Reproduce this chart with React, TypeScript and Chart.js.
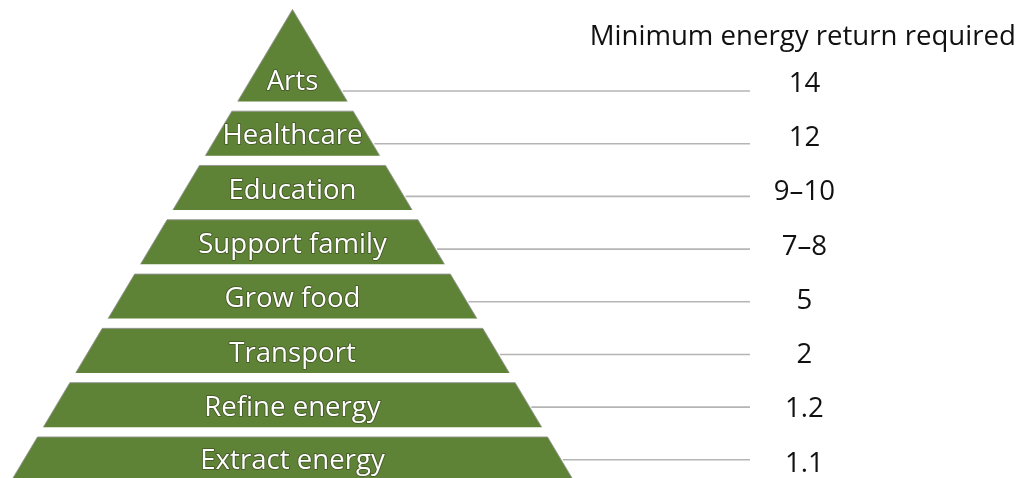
import React, { useEffect, useRef } from "react";
import { Chart, registerables } from "chart.js";

Chart.register(...registerables);

// Data (bottom to top)
const layerNames = [
  "Extract energy",
  "Refine energy",
  "Transport",
  "Grow food",
  "Support family",
  "Education",
  "Healthcare",
  "Arts",
];
const minReturns = ["1.1", "1.2", "2", "5", "7–8", "9–10", "12", "14"];
const columnTitle = "Minimum energy return required";

// Layout / style constants
const APEX = 8.692; // level of the pyramid tip
const BAND = 0.82; // band height as fraction of one level
const LINE_END = 14.12; // x where leader lines end
const VALUE_X = 15.8; // x of values column centre
const GREEN = "#5e8236";
const FONT = "'Open Sans', sans-serif";

const halfWidth = (v: number) => APEX - v;

export default function App() {
  const ref = useRef<HTMLCanvasElement | null>(null);

  useEffect(() => {
    if (!ref.current) return;

    const polys = layerNames.map((name, i) => {
      const v0 = i;
      const v1 = i === layerNames.length - 1 ? APEX : i + BAND;
      const pts =
        i === layerNames.length - 1
          ? [
              { x: -halfWidth(v0), y: v0 },
              { x: 0, y: v1 },
              { x: halfWidth(v0), y: v0 },
            ]
          : [
              { x: -halfWidth(v0), y: v0 },
              { x: -halfWidth(v1), y: v1 },
              { x: halfWidth(v1), y: v1 },
              { x: halfWidth(v0), y: v0 },
            ];
      return {
        label: name,
        data: pts,
        showLine: true,
        fill: { value: v0 },
        backgroundColor: GREEN,
        borderColor: "rgba(150,150,150,0.9)",
        borderWidth: 1,
        pointRadius: 0,
        tension: 0,
        order: 1,
      };
    });

    const leaders = layerNames.map((name, i) => {
      const vl = i * 0.97 + 0.4;
      return {
        label: name + " leader",
        data: [
          { x: halfWidth(vl) + 0.05, y: vl },
          { x: LINE_END, y: vl },
        ],
        showLine: true,
        fill: false,
        borderColor: "#b5b5b5",
        borderWidth: 1.6,
        pointRadius: 0,
        order: 2,
      };
    });

    const textPlugin = {
      id: "pyramidText",
      afterDatasetsDraw(chart: any) {
        const ctx = chart.ctx;
        const xs = chart.scales.x;
        const ys = chart.scales.y;
        ctx.save();
        ctx.font = `27.6px ${FONT}`;
        ctx.textAlign = "center";
        ctx.textBaseline = "alphabetic";
        layerNames.forEach((name, i) => {
          const cy = ys.getPixelForValue(i + 0.41) + 11 - (i === 0 ? 1.5 : 0);
          const cx = xs.getPixelForValue(0);
          ctx.lineJoin = "round";
          ctx.strokeStyle = "rgba(40,45,20,0.55)";
          ctx.lineWidth = 1.6;
          ctx.strokeText(name, cx, cy);
          ctx.fillStyle = "#ffffff";
          ctx.fillText(name, cx, cy);
        });
        ctx.fillStyle = "#111111";
        minReturns.forEach((val, i) => {
          const cy = ys.getPixelForValue(i + 0.41) + 12.5;
          ctx.fillText(val, xs.getPixelForValue(VALUE_X), cy);
        });
        ctx.fillText(
          columnTitle,
          xs.getPixelForValue(VALUE_X - 0.05),
          ys.getPixelForValue(8.04)
        );
        ctx.restore();
      },
    };

    const chart = new Chart(ref.current, {
      type: "scatter",
      data: { datasets: [...leaders, ...polys] as any },
      options: {
        animation: false,
        responsive: false,
        layout: { padding: 0 },
        plugins: {
          legend: { display: false },
          tooltip: { enabled: false },
          title: { display: false },
        },
        scales: {
          x: { type: "linear", min: -9.028, max: 22.485, display: false },
          y: { type: "linear", min: 0.0645, max: 8.867, display: false },
        },
      },
      plugins: [textPlugin],
    });
    return () => chart.destroy();
  }, []);

  return (
    <div
      style={{
        position: "fixed",
        left: 0,
        top: 0,
        width: 1021,
        height: 478,
        background: "#ffffff",
      }}
    >
      <canvas ref={ref} width={1021} height={478} />
    </div>
  );
}
